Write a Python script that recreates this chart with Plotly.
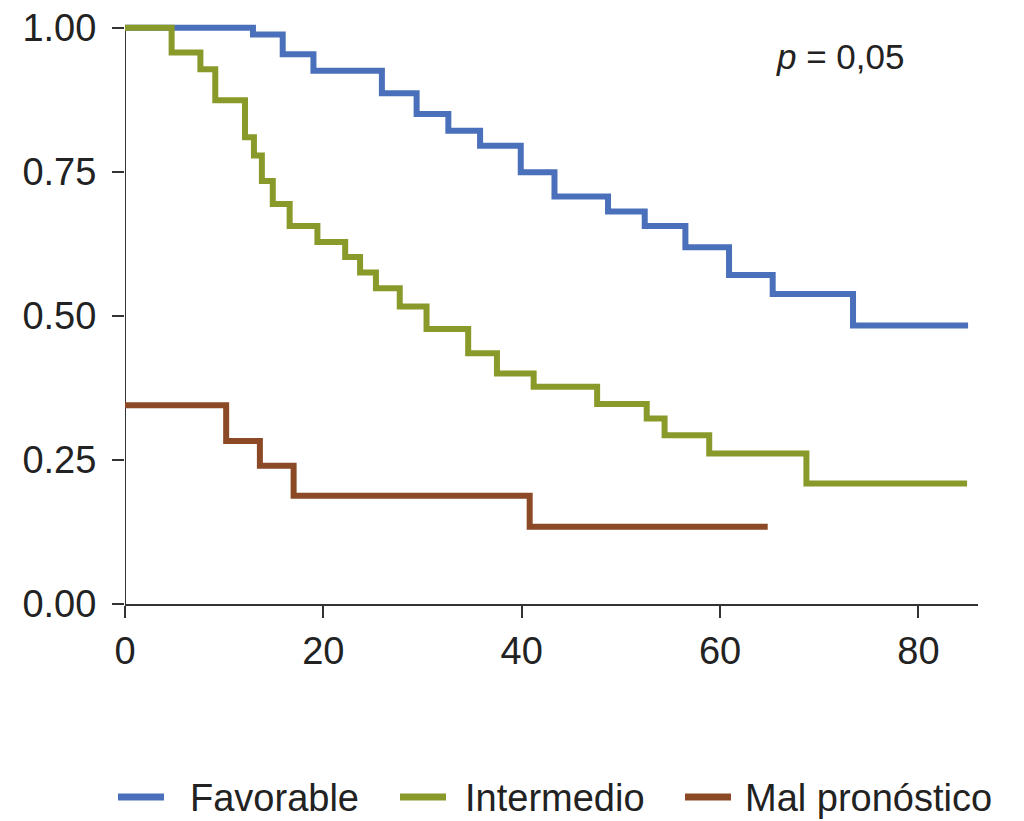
import plotly.graph_objects as go

# Kaplan-Meier step data (time of change, survival value)
fav_t = [0, 12.9, 15.9, 19.0, 25.9, 29.4, 32.6, 35.8, 39.9, 43.3, 48.7, 52.4, 56.5, 60.9, 65.3, 73.4, 85.0]
fav_s = [1.0, 0.988, 0.954, 0.925, 0.886, 0.850, 0.821, 0.795, 0.749, 0.707, 0.681, 0.656, 0.619, 0.571, 0.538, 0.483, 0.483]

int_t = [0, 4.7, 7.6, 9.1, 12.1, 13.0, 13.8, 14.9, 16.6, 19.4, 22.2, 23.7, 25.3, 27.7, 30.4, 34.6, 37.5, 41.2, 47.6, 52.6, 54.4, 58.9, 68.7, 84.9]
int_s = [1.0, 0.957, 0.928, 0.874, 0.810, 0.778, 0.734, 0.694, 0.656, 0.628, 0.602, 0.575, 0.548, 0.516, 0.477, 0.435, 0.400, 0.377, 0.347, 0.322, 0.293, 0.261, 0.209, 0.209]

mal_t = [0, 10.2, 13.6, 17.0, 40.8, 64.8]
mal_s = [0.345, 0.283, 0.240, 0.188, 0.134, 0.134]

names = ["Favorable", "Intermedio", "Mal pronóstico"]
colors = ["#4a70bb", "#8a9a2a", "#8b4a25"]

x_ticks = [0, 20, 40, 60, 80]
y_ticks = [0, 0.25, 0.5, 0.75, 1.0]
y_tick_labels = ["0.00", "0.25", "0.50", "0.75", "1.00"]

FONT = "Liberation Sans, Arial, sans-serif"

W, H = 1024, 821
ML, MR, MT, MB = 125, 46, 19, 217
PW, PH = W - ML - MR, H - MT - MB

def px_x(px):
    return (px - ML) / PW

def px_y(py):
    return 1 - (py - MT) / PH

fig = go.Figure()
for t, s, n, c in zip([fav_t, int_t, mal_t], [fav_s, int_s, mal_s], names, colors):
    fig.add_trace(go.Scatter(x=t, y=s, mode="lines", name=n,
                             line=dict(color=c, width=6, shape="hv"),
                             cliponaxis=False, showlegend=False))

fig.add_annotation(x=72.1, y=0.95, xref="x", yref="y", text="<i>p</i> = 0,05",
                   showarrow=False, font=dict(family=FONT, size=35, color="#222"))

# y axis line ending exactly at 1.00
fig.add_shape(type="line", xref="x", yref="y", x0=0, x1=0, y0=0, y1=1.0,
              line=dict(color="#333", width=2), layer="below")

# legend drawn below the plot
leg_y = 797
sym_x = [118, 400, 685]
txt_x = [188, 463, 743]
for n, c, sx, tx in zip(names, colors, sym_x, txt_x):
    fig.add_shape(type="line", xref="paper", yref="paper",
                  x0=px_x(sx), x1=px_x(sx + 46), y0=px_y(leg_y), y1=px_y(leg_y),
                  line=dict(color=c, width=7))
    fig.add_annotation(xref="paper", yref="paper", x=px_x(tx), y=px_y(leg_y + 1),
                       xanchor="left", yanchor="middle", showarrow=False, text=n,
                       font=dict(family=FONT, size=38, color="#222"))

fig.update_layout(
    width=W, height=H,
    margin=dict(l=ML, r=MR, t=MT, b=MB),
    paper_bgcolor="white", plot_bgcolor="white",
    font=dict(family=FONT, size=38, color="#222"),
    showlegend=False,
    xaxis=dict(range=[0, 86], tickvals=x_ticks, showgrid=False, zeroline=False,
               showline=True, linecolor="#333", linewidth=2, automargin=False,
               ticks="outside", ticklen=12, tickwidth=2, tickcolor="#333",
               ticklabelstandoff=0,
               tickfont=dict(family=FONT, size=38, color="#222")),
    yaxis=dict(range=[0, 1.015], tickvals=y_ticks, ticktext=y_tick_labels,
               showgrid=False, zeroline=False, automargin=False,
               showline=False,
               ticks="outside", ticklen=12, tickwidth=2, tickcolor="#333",
               ticklabelstandoff=8,
               tickfont=dict(family=FONT, size=38, color="#222")),
)

fig.write_html("out.html")
